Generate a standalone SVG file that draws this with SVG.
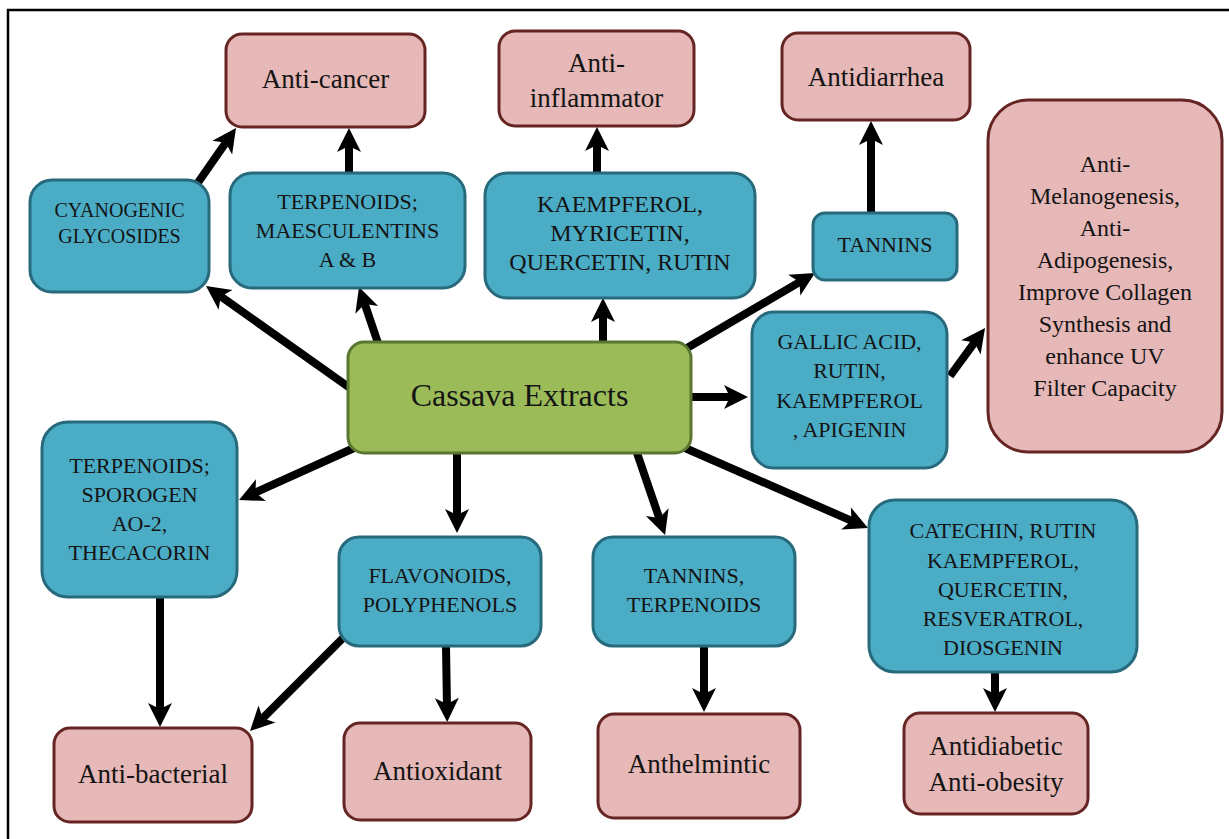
<svg xmlns="http://www.w3.org/2000/svg" width="1229" height="839" viewBox="0 0 1229 839">
<style>
.pink{fill:#e6b8b7;stroke:#652523;stroke-width:3}
.blue{fill:#4bacc6;stroke:#276a7c;stroke-width:3}
.green{fill:#9bbb59;stroke:#5a7630;stroke-width:3}
text{font-family:"Liberation Serif",Tinos,"Times New Roman",Times,"Noto Serif","DejaVu Serif",serif;fill:#141414;text-anchor:middle}
.pt{font-size:27px}
.bt{font-size:22px}
.st{font-size:24px}
.conn path{fill:none;stroke:#000;stroke-width:8;marker-end:url(#ah)}
</style>
<defs>
<marker id="ah" markerUnits="userSpaceOnUse" viewBox="-12 -14 28 28" markerWidth="28" markerHeight="28" refX="0" refY="0" orient="auto" overflow="visible">
<path d="M14,0 L-10,-12 L-4,0 L-10,12 Z" fill="#000"/>
</marker>
</defs>
<rect x="8" y="10" width="1250" height="860" fill="#fff" stroke="#000" stroke-width="2.5"/>

<g id="connectors" class="conn">
<path d="M350,388 L217.4,294.1"/>
<path d="M378,343 L363.5,300.3"/>
<path d="M603,342 L603,312"/>
<path d="M687,348 L802.9,280.1"/>
<path d="M691,397 L734,397"/>
<path d="M950,376 L976.8,339.3"/>
<path d="M354,448 L251.8,494.2"/>
<path d="M457,453 L457,519"/>
<path d="M637,453 L660.5,521.7"/>
<path d="M685,448 L855.2,522.4"/>
<path d="M197,184 L228,139.5"/>
<path d="M349,173 L349,142"/>
<path d="M597,173 L597,141"/>
<path d="M871,213 L871,135"/>
<path d="M160,597 L160,713"/>
<path d="M345,636 L259.9,721.1"/>
<path d="M446,646 L447,708"/>
<path d="M704,646 L704,698"/>
<path d="M995,672 L995,698"/>
</g>

<g id="cassava"><rect class="green" x="348" y="342" width="343" height="111" rx="16"/><text x="519.5" y="406" font-size="32">Cassava Extracts</text></g>

<g id="anticancer"><rect class="pink" x="226" y="34" width="199" height="93" rx="16"/><text class="pt" x="325.5" y="88">Anti-cancer</text></g>
<g id="antiinflammator"><rect class="pink" x="499" y="31" width="195" height="95" rx="16"/><text class="pt" x="596.5" y="72">Anti-</text><text class="pt" x="596.5" y="107">inflammator</text></g>
<g id="antidiarrhea"><rect class="pink" x="782" y="33" width="188" height="87" rx="16"/><text class="pt" x="876" y="86">Antidiarrhea</text></g>
<g id="skin"><rect class="pink" x="988" y="100" width="234" height="352" rx="40"/>
<text class="st" x="1105" y="172">Anti-</text>
<text class="st" x="1105" y="204">Melanogenesis,</text>
<text class="st" x="1105" y="236">Anti-</text>
<text class="st" x="1105" y="268">Adipogenesis,</text>
<text class="st" x="1105" y="300">Improve Collagen</text>
<text class="st" x="1105" y="332">Synthesis and</text>
<text class="st" x="1105" y="364">enhance UV</text>
<text class="st" x="1105" y="396">Filter Capacity</text>
</g>
<g id="antibacterial"><rect class="pink" x="54" y="728" width="198" height="94" rx="16"/><text class="pt" x="153" y="783">Anti-bacterial</text></g>
<g id="antioxidant"><rect class="pink" x="344" y="723" width="187" height="97" rx="16"/><text class="pt" x="437.5" y="780">Antioxidant</text></g>
<g id="anthelmintic"><rect class="pink" x="598" y="714" width="202" height="104" rx="16"/><text class="pt" x="699" y="773">Anthelmintic</text></g>
<g id="antidiabetic"><rect class="pink" x="904" y="713" width="184" height="101" rx="16"/><text class="pt" x="996" y="755">Antidiabetic</text><text class="pt" x="996" y="791">Anti-obesity</text></g>

<g id="cyanogenic"><rect class="blue" x="30" y="180" width="179" height="112" rx="22"/><text x="119.5" y="217" font-size="20">CYANOGENIC</text><text x="119.5" y="243" font-size="20">GLYCOSIDES</text></g>
<g id="terpmaesc"><rect class="blue" x="230" y="173" width="235" height="115" rx="22"/><text class="bt" x="347.5" y="209">TERPENOIDS;</text><text class="bt" x="347.5" y="238">MAESCULENTINS</text><text class="bt" x="347.5" y="267">A &amp; B</text></g>
<g id="kaempferol"><rect class="blue" x="485" y="173" width="270" height="125" rx="22"/><text x="620" y="212" font-size="24">KAEMPFEROL,</text><text x="620" y="241" font-size="24">MYRICETIN,</text><text x="620" y="270" font-size="24">QUERCETIN, RUTIN</text></g>
<g id="tannins"><rect class="blue" x="813" y="213" width="144" height="67" rx="12"/><text class="bt" x="885" y="252">TANNINS</text></g>
<g id="gallic"><rect class="blue" x="752" y="312" width="195" height="156" rx="22"/><text class="bt" x="849.5" y="349">GALLIC ACID,</text><text class="bt" x="849.5" y="378">RUTIN,</text><text class="bt" x="849.5" y="408">KAEMPFEROL</text><text class="bt" x="849.5" y="437">, APIGENIN</text></g>
<g id="sporogen"><rect class="blue" x="42" y="422" width="195" height="175" rx="26"/><text class="bt" x="139.5" y="473">TERPENOIDS;</text><text class="bt" x="139.5" y="502">SPOROGEN</text><text class="bt" x="139.5" y="531">AO-2,</text><text class="bt" x="139.5" y="560">THECACORIN</text></g>
<g id="flavonoids"><rect class="blue" x="339" y="537" width="202" height="109" rx="20"/><text class="bt" x="440" y="583">FLAVONOIDS,</text><text class="bt" x="440" y="612">POLYPHENOLS</text></g>
<g id="tanninsterp"><rect class="blue" x="593" y="537" width="202" height="109" rx="20"/><text class="bt" x="694" y="583">TANNINS,</text><text class="bt" x="694" y="612">TERPENOIDS</text></g>
<g id="catechin"><rect class="blue" x="869" y="500" width="268" height="172" rx="26"/><text class="bt" x="1003" y="538">CATECHIN, RUTIN</text><text class="bt" x="1003" y="568">KAEMPFEROL,</text><text class="bt" x="1003" y="597">QUERCETIN,</text><text class="bt" x="1003" y="626">RESVERATROL,</text><text class="bt" x="1003" y="655">DIOSGENIN</text></g>
</svg>
